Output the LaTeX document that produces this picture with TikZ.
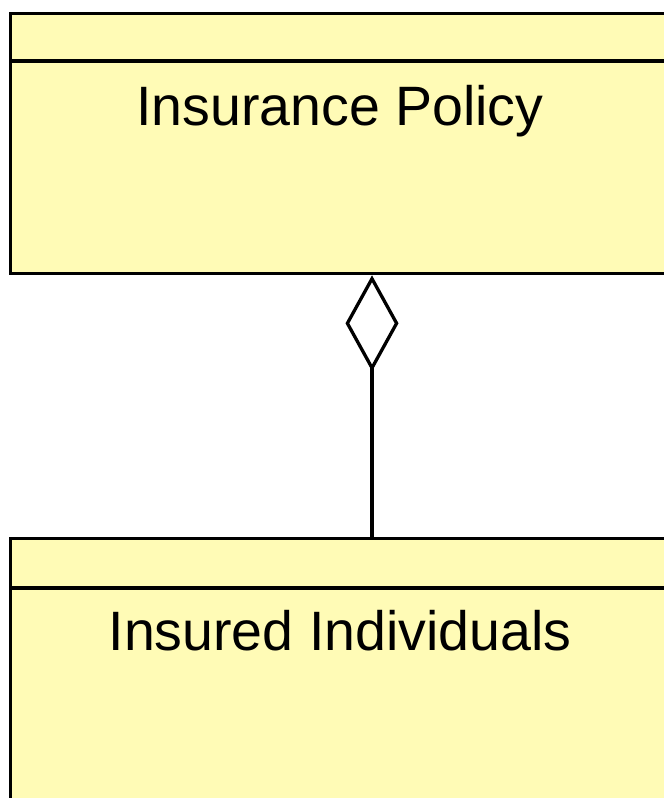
\documentclass[tikz,border=0pt]{standalone}
\usepackage{fontspec}
\setmainfont{Liberation Sans}
\usetikzlibrary{arrows.meta}
\definecolor{classfill}{RGB}{255,251,182}
\tikzset{
  classbox/.style={draw=black, line width=3.3pt, fill=classfill, rectangle, inner sep=0pt, anchor=north west},
  classname/.style={anchor=base, inner sep=0pt, font=\fontsize{55.5}{66}\selectfont},
  aggr/.style={{Diamond[open, length=96pt, width=53pt]}-, line width=3.3pt}
}
\begin{document}
\begin{tikzpicture}[x=1pt, y=-1pt]
\useasboundingbox (0,0) rectangle (664,798);
\clip (0,0) rectangle (664,798);
\node[classbox, minimum width=700pt, minimum height=260pt] (policy) at (9,12) {};
\draw[line width=3.3pt] (9,61) -- (700,61);
\node[classname] (policyname) at (340,125) {Insurance Policy};
\node[classbox, minimum width=700pt, minimum height=300pt] (insured) at (9,537) {};
\draw[line width=3.3pt] (9,588) -- (700,588);
\node[classname] (insuredname) at (340,650) {Insured Individuals};
\coordinate (link) at (372,400);
\draw[aggr] (policy.south -| link) -- (insured.north -| link);
\end{tikzpicture}
\end{document}
